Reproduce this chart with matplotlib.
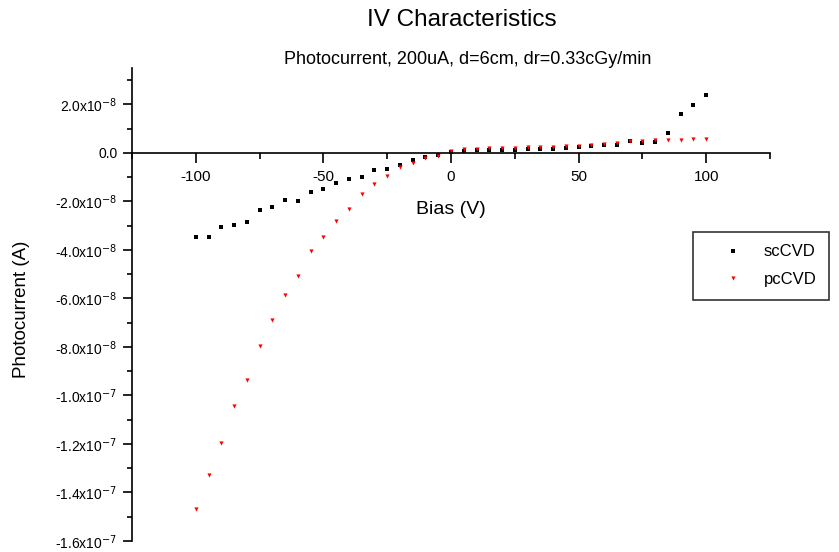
import numpy as np
import matplotlib
matplotlib.use("Agg")
import matplotlib.pyplot as plt
from matplotlib.ticker import MultipleLocator, FuncFormatter

plt.rcParams['font.family'] = ['Liberation Sans', 'DejaVu Sans']
plt.rcParams['axes.unicode_minus'] = False

# bias voltage (V)
bias = [-100, -95, -90, -85, -80, -75, -70, -65, -60, -55, -50, -45, -40, -35, -30,
        -25, -20, -15, -10, -5, 0, 5, 10, 15, 20, 25, 30, 35, 40, 45, 50, 55, 60,
        65, 70, 75, 80, 85, 90, 95, 100]

# photocurrent in units of 1e-8 A
sc_cvd = [-3.45, -3.45, -3.06, -2.99, -2.83, -2.36, -2.23, -1.96, -2.00, -1.60, -1.48,
          -1.24, -1.06, -0.98, -0.71, -0.65, -0.51, -0.31, -0.16, -0.07, 0.03, 0.08,
          0.10, 0.13, 0.13, 0.10, 0.17, 0.17, 0.17, 0.22, 0.24, 0.27, 0.31, 0.31,
          0.50, 0.39, 0.45, 0.80, 1.62, 1.97, 2.39]
pc_cvd = [-14.68, -13.27, -11.96, -10.45, -9.36, -7.95, -6.89, -5.86, -5.08, -4.06,
          -3.46, -2.80, -2.32, -1.70, -1.30, -0.95, -0.57, -0.40, -0.22, -0.12, 0.06,
          0.17, 0.17, 0.22, 0.22, 0.22, 0.24, 0.24, 0.26, 0.28, 0.28, 0.31, 0.38,
          0.40, 0.48, 0.50, 0.52, 0.52, 0.52, 0.59, 0.59]

sc = np.array(sc_cvd) * 1e-8
pc = np.array(pc_cvd) * 1e-8

fig = plt.figure(figsize=(8.39, 5.52), dpi=100)
ax = fig.add_axes([132/839, 1 - 541/552, 638/839, 473/552])

ax.plot(bias, sc, ls='none', marker='s', ms=2.2, mew=0, color='black', label='scCVD')
ax.plot(bias, pc, ls='none', marker='v', ms=3.0, mew=0, color='red', label='pcCVD')

ax.set_xlim(-125, 125)
ax.set_ylim(-1.6e-7, 3.5e-8)

ax.spines['top'].set_visible(False)
ax.spines['right'].set_visible(False)
ax.spines['bottom'].set_position(('data', 0))
for s in ['left', 'bottom']:
    ax.spines[s].set_linewidth(1.2)

ax.xaxis.set_major_locator(MultipleLocator(50))
ax.xaxis.set_minor_locator(MultipleLocator(25))
ax.yaxis.set_major_locator(MultipleLocator(2e-8))
ax.yaxis.set_minor_locator(MultipleLocator(1e-8))


def sci(v, pos):
    if abs(v) < 1e-12:
        return '0.0'
    e = int(np.floor(np.log10(abs(v)) + 1e-9))
    m = v / 10**e
    return f'{m:.1f}x10$^{{{e}}}$'


ax.yaxis.set_major_formatter(FuncFormatter(sci))

ax.tick_params(axis='x', which='major', direction='out', length=7, width=1.2,
               labelsize=11, pad=5)
ax.tick_params(axis='x', which='minor', direction='out', length=4, width=1.2)
ax.tick_params(axis='y', which='major', direction='out', length=6.5, width=1.2,
               labelsize=10, pad=4)
ax.tick_params(axis='y', which='minor', direction='out', length=3.5, width=1.2)

ax.set_xlabel('Bias (V)', fontsize=14)
ax.xaxis.set_label_coords(0.5, 0.718)
ax.set_ylabel('Photocurrent (A)', fontsize=13.5)
ax.yaxis.set_label_coords(-0.16, 0.49)

fig.text(462/839, 1 - 20/552, 'IV Characteristics', fontsize=17.5,
         ha='center', va='center')
fig.text(468/839, 1 - 60/552, 'Photocurrent, 200uA, d=6cm, dr=0.33cGy/min',
         fontsize=13, ha='center', va='center')

leg = ax.legend(loc='upper left', bbox_to_anchor=(693/839, 1 - 232/552),
                bbox_transform=fig.transFigure, fontsize=12, frameon=True,
                fancybox=False, borderpad=0.75, handlelength=3.3,
                handletextpad=0.2, labelspacing=0.75, borderaxespad=0,
                markerscale=1.0)
leg.get_frame().set_edgecolor('black')
leg.get_frame().set_linewidth(1.2)

fig.savefig('out.png', dpi=100)
